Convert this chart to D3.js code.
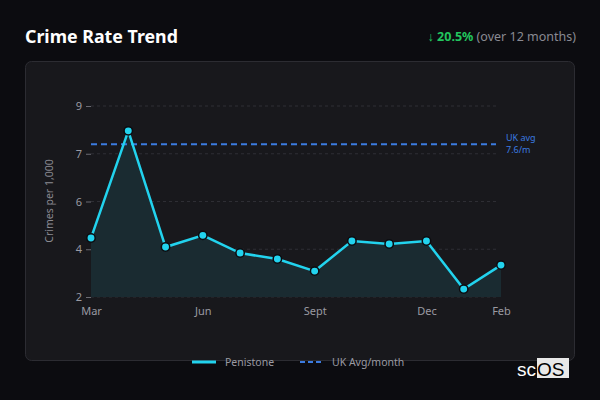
<!DOCTYPE html>
<html>
<head>
<meta charset="utf-8">
<script src="https://cdn.jsdelivr.net/npm/d3@7"></script>
<style>
  html, body { margin: 0; padding: 0; background: #0c0c10; }
  svg { display: block; font-family: "Noto Sans", sans-serif; }
</style>
</head>
<body>
<div id="chart"></div>
<script>
// data
const months = ["Mar", "Apr", "May", "Jun", "Jul", "Aug", "Sept", "Oct", "Nov", "Dec", "Jan", "Feb"];
const penistone = [4.16, 8.09, 3.83, 4.26, 3.61, 3.39, 2.95, 4.05, 3.94, 4.05, 2.29, 3.17];
const ukAvg = 7.6;
const tickMonths = ["Mar", "Jun", "Sept", "Dec", "Feb"];
const yTicks = [2, 3.75, 5.5, 7.25, 9];

const width = 600, height = 400;
const svg = d3.select("#chart").append("svg")
    .attr("width", width)
    .attr("height", height);

svg.append("rect").attr("width", width).attr("height", height).attr("fill", "#0c0c10");

// header
svg.append("text")
    .attr("x", 25).attr("y", 43)
    .attr("fill", "#ffffff")
    .attr("font-size", 17.8)
    .attr("font-weight", "bold")
    .text("Crime Rate Trend");

let change = svg.append("text")
    .attr("x", 576).attr("y", 41)
    .attr("text-anchor", "end")
    .attr("font-size", 12.5);
change.append("tspan").attr("fill", "#22c55e").attr("font-weight", "bold").text("↓ 20.5%");
change.append("tspan").attr("fill", "#8a8a92").text(" (over 12 months)");

// panel
svg.append("rect")
    .attr("x", 25.5).attr("y", 61.5)
    .attr("width", 549).attr("height", 299)
    .attr("rx", 6)
    .attr("fill", "#18181c")
    .attr("stroke", "#2c2c32");

const x = d3.scalePoint().domain(months).range([91, 501]);
const y = d3.scaleLinear().domain([2, 9]).range([297, 106]);

// grid
svg.append("g").selectAll("line")
    .data(yTicks)
    .enter().append("line")
    .attr("x1", 91).attr("x2", 496)
    .attr("y1", d => y(d)).attr("y2", d => y(d))
    .attr("stroke", "#2e2e34")
    .attr("stroke-dasharray", "3,3")
    .attr("stroke-width", 1);

// y axis
let yAxis = svg.append("g")
    .attr("transform", "translate(91,0)")
    .call(d3.axisLeft(y).tickValues(yTicks).tickFormat(d3.format(".0f")).tickSize(5).tickPadding(4));
yAxis.select(".domain").remove();
yAxis.selectAll(".tick line").attr("stroke", "#6a6a72");
yAxis.selectAll("text").attr("fill", "#9a9aa2").attr("font-size", 11).attr("font-family", "Noto Sans");

svg.append("text")
    .attr("transform", "translate(53,201) rotate(-90)")
    .attr("text-anchor", "middle")
    .attr("fill", "#8a8a92")
    .attr("font-size", 10.5)
    .text("Crimes per 1,000");

// x axis
let xAxis = svg.append("g")
    .attr("transform", "translate(0,297)")
    .call(d3.axisBottom(x).tickValues(tickMonths).tickSize(0).tickPadding(10));
xAxis.select(".domain").remove();
xAxis.selectAll("text").attr("fill", "#9a9aa2").attr("font-size", 11).attr("font-family", "Noto Sans");

// area + line
const area = d3.area()
    .x(d => x(d.m))
    .y0(y(2))
    .y1(d => y(d.v));
const line = d3.line()
    .x(d => x(d.m))
    .y(d => y(d.v));
const pts = months.map((m, i) => ({m: m, v: penistone[i]}));

svg.append("path")
    .datum(pts)
    .attr("d", area)
    .attr("fill", "#1a2b31");

// UK avg line
svg.append("line")
    .attr("x1", 91).attr("x2", 496)
    .attr("y1", y(ukAvg)).attr("y2", y(ukAvg))
    .attr("stroke", "#3b7be0")
    .attr("stroke-width", 2)
    .attr("stroke-dasharray", "6,4");

svg.append("text")
    .attr("x", 506).attr("y", y(ukAvg) - 3)
    .attr("fill", "#3b7be0")
    .attr("font-size", 9)
    .text("UK avg");
svg.append("text")
    .attr("x", 506).attr("y", y(ukAvg) + 9)
    .attr("fill", "#3b7be0")
    .attr("font-size", 9)
    .text(ukAvg + "/m");

svg.append("path")
    .datum(pts)
    .attr("d", line)
    .attr("fill", "none")
    .attr("stroke", "#22d3ee")
    .attr("stroke-width", 2.5);

svg.append("g").selectAll("circle")
    .data(pts)
    .enter().append("circle")
    .attr("cx", d => x(d.m))
    .attr("cy", d => y(d.v))
    .attr("r", 4.2)
    .attr("fill", "#22d3ee")
    .attr("stroke", "#0c0c10")
    .attr("stroke-width", 1.5);

// legend
let legend = svg.append("g").attr("transform", "translate(0,362)");
legend.append("line")
    .attr("x1", 192).attr("x2", 216)
    .attr("stroke", "#22d3ee").attr("stroke-width", 3);
legend.append("text")
    .attr("x", 225).attr("y", 4)
    .attr("fill", "#9a9aa2").attr("font-size", 10.5)
    .text("Penistone");
legend.append("line")
    .attr("x1", 300).attr("x2", 324)
    .attr("stroke", "#3b7be0").attr("stroke-width", 2)
    .attr("stroke-dasharray", "5,3");
legend.append("text")
    .attr("x", 332).attr("y", 4)
    .attr("fill", "#9a9aa2").attr("font-size", 10.5)
    .text("UK Avg/month");

// logo
svg.append("rect")
    .attr("x", 537).attr("y", 358)
    .attr("width", 32).attr("height", 20)
    .attr("fill", "#e8e8e8");
svg.append("text")
    .attr("x", 517).attr("y", 376)
    .attr("fill", "#ffffff")
    .attr("font-size", 19)
    .attr("font-family", "Liberation Sans, Arial, sans-serif")
    .text("sc");
svg.append("text")
    .attr("x", 537).attr("y", 376)
    .attr("fill", "#000000")
    .attr("font-size", 19)
    .attr("font-family", "Liberation Sans, Arial, sans-serif")
    .text("OS");
</script>
</body>
</html>
